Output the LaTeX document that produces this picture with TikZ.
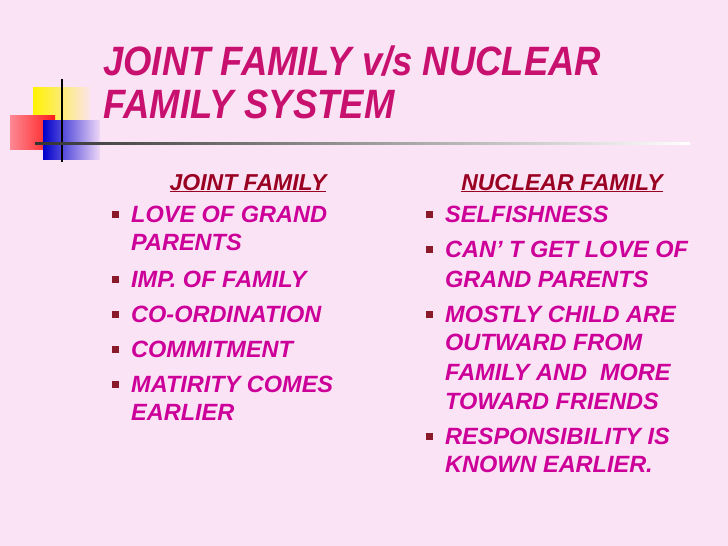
\documentclass[tikz,border=0pt]{standalone}
\usepackage{fontspec}
\setmainfont{Liberation Sans}
\usetikzlibrary{positioning}
\definecolor{slidebg}{HTML}{FBE3F6}
\definecolor{titlecol}{HTML}{C8106E}
\definecolor{headcol}{HTML}{990022}
\definecolor{itemcol}{HTML}{CC0099}
\definecolor{bulcol}{HTML}{8A1A2A}
\begin{document}
\begin{tikzpicture}[x=1pt,y=-1pt,
titletext/.style={anchor=base west,inner sep=0pt,text=titlecol,xscale=0.89,
  font=\fontsize{41}{46}\selectfont\bfseries\itshape},
headtext/.style={anchor=base,inner sep=0pt,text=headcol,
  font=\fontsize{23}{27}\selectfont\bfseries\itshape},
itemtext/.style={anchor=base west,inner sep=0pt,text=itemcol,
  font=\fontsize{23.5}{27}\selectfont\bfseries\itshape},
bul/.style={fill=bulcol,minimum size=7pt,inner sep=0pt}
]
\fill[slidebg] (0,0) rectangle (728,546);
\useasboundingbox (0,0) rectangle (728,546);
% decoration
\shade[left color=yellow!90!orange,right color=yellow!5!slidebg] (33,87) rectangle (90,122);
\shade[left color=red!40!slidebg,right color=red!90] (10,115) rectangle (55,149);
\shade[left color=blue!80!black,right color=blue!5!slidebg] (43,120) rectangle (100,159);
\draw[line width=1.5pt] (62,79) -- (62,162);
\shade[left color=black!80,right color=white] (35,142) rectangle (690,144.5);
% title
\node[titletext] (t1) at (103,75) {JOINT FAMILY v/s NUCLEAR};
\node[titletext] (t2) at (103,118) {FAMILY SYSTEM};
% headings
\node[headtext] (hj) at (248,190) {\underline{JOINT FAMILY}};
\node[headtext] (hn) at (562,190) {\underline{NUCLEAR FAMILY}};
% left column
\foreach \y/\txt/\b in {222/LOVE OF GRAND/1,250/PARENTS/0,287/IMP. OF FAMILY/1,
  322/CO-ORDINATION/1,357/COMMITMENT/1,392/MATIRITY COMES/1,420/EARLIER/0}{
  \node[itemtext] (l\y) at (131,\y) {\txt};
  \ifnum\b=1 \node[bul] (lb\y) at (115,\y-8) {};\fi
}
% right column
\foreach \y/\txt/\b in {222/SELFISHNESS/1,257/CAN’ T GET LOVE OF/1,287/GRAND PARENTS/0,
  322/MOSTLY CHILD ARE/1,350/OUTWARD FROM/0,380/FAMILY AND \ MORE/0,
  409/TOWARD FRIENDS/0,444/RESPONSIBILITY IS/1,472/KNOWN EARLIER./0}{
  \node[itemtext] (r\y) at (445,\y) {\txt};
  \ifnum\b=1 \node[bul] (rb\y) at (429,\y-8) {};\fi
}
\end{tikzpicture}
\end{document}
